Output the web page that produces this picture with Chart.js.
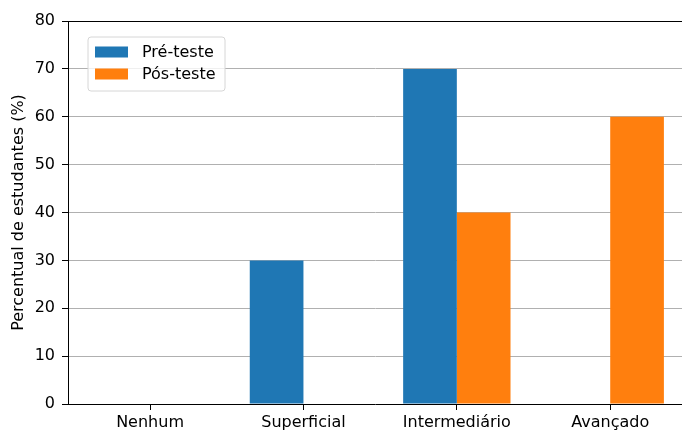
<!DOCTYPE html>
<html>
<head>
<meta charset="utf-8">
<script src="https://cdn.jsdelivr.net/npm/chart.js@4.4.1/dist/chart.umd.min.js"></script>
<style>
  html, body { margin: 0; padding: 0; background: #fff; overflow: hidden; }
  #wrap { width: 682px; height: 430px; position: relative; }
</style>
</head>
<body>
<div id="wrap"><canvas id="c"></canvas></div>
<script>
// Student knowledge levels before and after the test
const categories = ['Nenhum', 'Superficial', 'Intermediário', 'Avançado'];
const preTeste = [0, 30, 70, 0];
const posTeste = [0, 0, 40, 60];
const yTicks = [0, 10, 20, 30, 40, 50, 60, 70, 80];

const FONT = "'DejaVu Sans', sans-serif";
const BLUE = '#1f77b4';
const ORANGE = '#ff7f0e';

const toPoints = arr => arr.map((v, i) => ({ x: i, y: v }));

// Top spine of the axes box
const frame = {
  id: 'frame',
  afterDraw(chart) {
    const { ctx, chartArea: a } = chart;
    ctx.save();
    ctx.strokeStyle = '#000';
    ctx.lineWidth = 1;
    ctx.beginPath();
    ctx.moveTo(a.left, a.top + 0.5);
    ctx.lineTo(a.right, a.top + 0.5);
    ctx.stroke();
    ctx.restore();
  }
};

// Framed legend in the upper-left corner of the plot
const boxLegend = {
  id: 'boxLegend',
  afterDraw(chart) {
    const { ctx, chartArea: a } = chart;
    const x0 = a.left + 20, y0 = a.top + 16, w = 137, h = 54, r = 3;
    ctx.save();
    ctx.beginPath();
    ctx.moveTo(x0 + r, y0);
    ctx.arcTo(x0 + w, y0, x0 + w, y0 + h, r);
    ctx.arcTo(x0 + w, y0 + h, x0, y0 + h, r);
    ctx.arcTo(x0, y0 + h, x0, y0, r);
    ctx.arcTo(x0, y0, x0 + w, y0, r);
    ctx.closePath();
    ctx.fillStyle = 'rgba(255,255,255,0.8)';
    ctx.fill();
    ctx.strokeStyle = '#d6d6d6';
    ctx.lineWidth = 1;
    ctx.stroke();
    ctx.font = '16px ' + FONT;
    ctx.textBaseline = 'middle';
    ctx.textAlign = 'left';
    chart.data.datasets.forEach((ds, i) => {
      const cy = y0 + 15 + i * 22;
      ctx.fillStyle = ds.backgroundColor;
      ctx.fillRect(x0 + 7, cy - 5.5, 33, 11);
      ctx.fillStyle = '#000';
      ctx.fillText(ds.label, x0 + 54, cy + 0.5);
    });
    ctx.restore();
  }
};

new Chart(document.getElementById('c'), {
  type: 'bar',
  data: {
    datasets: [
      { label: 'Pré-teste', data: toPoints(preTeste), backgroundColor: BLUE, borderWidth: 0 },
      { label: 'Pós-teste', data: toPoints(posTeste), backgroundColor: ORANGE, borderWidth: 0 }
    ]
  },
  options: {
    responsive: true,
    maintainAspectRatio: false,
    animation: false,
    events: [],
    layout: { padding: { left: 0, right: 0, top: 21, bottom: 0 } },
    datasets: { bar: { categoryPercentage: 0.7, barPercentage: 1.0 } },
    plugins: { legend: { display: false }, tooltip: { enabled: false } },
    scales: {
      x: {
        type: 'linear',
        // visible window of the x axis; it ends at the canvas edge
        min: -0.535,
        max: 3.468,
        offset: false,
        afterBuildTicks: axis => { axis.ticks = categories.map((_, i) => ({ value: i })); },
        afterFit: axis => { axis.height = 26; },
        grid: { offset: false, drawOnChartArea: false, tickLength: 6, tickColor: '#000', tickWidth: 1 },
        border: { color: '#000', width: 1 },
        ticks: {
          autoSkip: false,
          maxRotation: 0,
          padding: 3,
          color: '#000',
          font: { family: FONT, size: 16 },
          callback: v => categories[v]
        }
      },
      y: {
        min: 0,
        max: 80,
        z: 1,
        afterBuildTicks: axis => { axis.ticks = yTicks.map(v => ({ value: v })); },
        afterFit: axis => { axis.width = 68; },
        grid: {
          color: c => (c.tick && (c.tick.value === 0 || c.tick.value === 80)) ? 'rgba(0,0,0,0)' : '#b0b0b0',
          lineWidth: 1,
          tickLength: 6,
          tickColor: '#000',
          tickWidth: 1
        },
        border: { color: '#000', width: 1 },
        ticks: {
          padding: 7,
          color: '#000',
          font: { family: FONT, size: 16 }
        },
        title: {
          display: true,
          text: 'Percentual de estudantes (%)',
          color: '#000',
          font: { family: FONT, size: 16 },
          padding: { top: 9.5, bottom: 0 }
        }
      }
    }
  },
  plugins: [frame, boxLegend]
});
</script>
</body>
</html>
